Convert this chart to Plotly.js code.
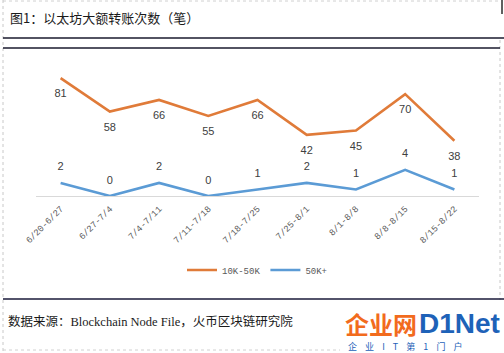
<!DOCTYPE html>
<html>
<head>
<meta charset="utf-8">
<script src="https://cdn.plot.ly/plotly-3.0.1.min.js"></script>
<style>html,body{margin:0;padding:0;background:#fff;}#chart{width:504px;height:353px;}</style>
</head>
<body>
<div id="chart"></div>
<script>
const categories = ["6/20-6/27","6/27-7/4","7/4-7/11","7/11-7/18","7/18-7/25","7/25-8/1","8/1-8/8","8/8-8/15","8/15-8/22"];
const series1Name = "10K-50K";
const series1 = [81, 58, 66, 55, 66, 42, 45, 70, 38];
const series2Name = "50K+";
const series2 = [2, 0, 2, 0, 1, 2, 1, 4, 1];

const W = 504, H = 353;
const M = {l: 36, r: 25, t: 65, b: 157};
const pw = W - M.l - M.r, ph = H - M.t - M.b;
const px = x => (x - M.l) / pw;
const py = y => (H - M.b - y) / ph;

function hline(y, x0, x1, color, width, dash) {
  return {type: 'line', xref: 'paper', yref: 'paper', x0: px(x0), x1: px(x1), y0: py(y), y1: py(y),
    line: {color: color, width: width, dash: dash || 'solid'}};
}
function vline(x, y0, y1, color, width, dash) {
  return {type: 'line', xref: 'paper', yref: 'paper', x0: px(x), x1: px(x), y0: py(y0), y1: py(y1),
    line: {color: color, width: width, dash: dash || 'solid'}};
}

const labelFont = {family: 'Liberation Sans, Arial, sans-serif', size: 11, color: '#404040'};
const traces = [
  {x: categories, y: series1, name: series1Name, type: 'scatter', mode: 'lines+markers+text',
   text: series1.map(String), textposition: 'bottom center', textfont: labelFont,
   marker: {size: 16, color: 'rgba(0,0,0,0)'},
   line: {color: '#E07B39', width: 2.6}, yaxis: 'y', cliponaxis: false},
  {x: categories, y: series2, name: series2Name, type: 'scatter', mode: 'lines+markers+text',
   text: series2.map(String), textposition: 'top center', textfont: labelFont,
   marker: {size: 14, color: 'rgba(0,0,0,0)'},
   line: {color: '#5B9BD5', width: 2.6}, yaxis: 'y2', cliponaxis: false}
];

const NB = '\u00a0';
const sub = ['企','业','I','T','第','1','门','户'].join(NB.repeat(4));

const layout = {
  width: W, height: H,
  margin: M,
  paper_bgcolor: '#ffffff', plot_bgcolor: '#ffffff',
  showlegend: true,
  legend: {orientation: 'h', x: 0.5, xanchor: 'center', y: py(270), yanchor: 'middle',
    font: {family: 'Liberation Mono, DejaVu Sans Mono, monospace', size: 9, color: '#595959'},
    itemwidth: 30, tracegroupgap: 0, bgcolor: 'rgba(0,0,0,0)'},
  xaxis: {type: 'category', range: [-0.5, 8.5], showline: true, linecolor: '#d9d9d9', linewidth: 1,
    showgrid: false, zeroline: false, ticks: '', tickangle: -45, automargin: false,
    ticklabelstandoff: 3,
    tickfont: {family: 'Liberation Mono, DejaVu Sans Mono, monospace', size: 9, color: '#595959'}},
  yaxis: {range: [0, 90], visible: false, showgrid: false, zeroline: false, automargin: false},
  yaxis2: {range: [0, 20], overlaying: 'y', visible: false, showgrid: false, zeroline: false, automargin: false},
  shapes: [
    hline(1, 3, 502, '#d0d0d0', 1, 'dot'),
    vline(3, 0, 352, '#c8c8c8', 1, 'dot'),
    vline(500, 40, 300, '#c8c8c8', 1, 'dot'),
    vline(502, 0, 14, '#606060', 2),
    hline(38, 3, 504, '#1a1a2e', 1.5),
    hline(48, 3, 500, '#1a1a2e', 1.5),
    hline(299, 3, 504, '#1a1a3a', 1.5),
    hline(350, 3, 340, '#d0d0d0', 1, 'dot')
  ],
  annotations: [
    {xref: 'paper', yref: 'paper', x: px(8), y: py(18), xanchor: 'left', yanchor: 'middle', showarrow: false,
     text: '图1：以太坊大额转账次数（笔）',
     font: {family: 'Noto Sans CJK SC, sans-serif', size: 13, color: '#1a1a1a'}},
    {xref: 'paper', yref: 'paper', x: px(6), y: py(320), xanchor: 'left', yanchor: 'middle', showarrow: false,
     text: '数据来源：<span style="font-family:Liberation Serif, serif">Blockchain Node File</span>，火币区块链研究院',
     font: {family: 'Noto Sans CJK SC, sans-serif', size: 12.5, color: '#1a1a1a'}},
    {xref: 'paper', yref: 'paper', x: px(343), y: py(323), xanchor: 'left', yanchor: 'middle', showarrow: false,
     text: '<b>企业网</b>',
     font: {family: 'Noto Sans CJK SC, sans-serif', size: 24, color: '#F26B1D'}},
    {xref: 'paper', yref: 'paper', x: px(417), y: py(323), xanchor: 'left', yanchor: 'middle', showarrow: false,
     text: '<b>D1Net</b>',
     font: {family: 'Liberation Sans, Arial, sans-serif', size: 28, color: '#1E62B8'}},
    {xref: 'paper', yref: 'paper', x: px(346), y: py(346), xanchor: 'left', yanchor: 'middle', showarrow: false,
     text: sub,
     font: {family: 'Noto Sans CJK SC, sans-serif', size: 9, color: '#1E62B8'}}
  ]
};

Plotly.newPlot('chart', traces, layout, {displayModeBar: false, staticPlot: true});
</script>
</body>
</html>
